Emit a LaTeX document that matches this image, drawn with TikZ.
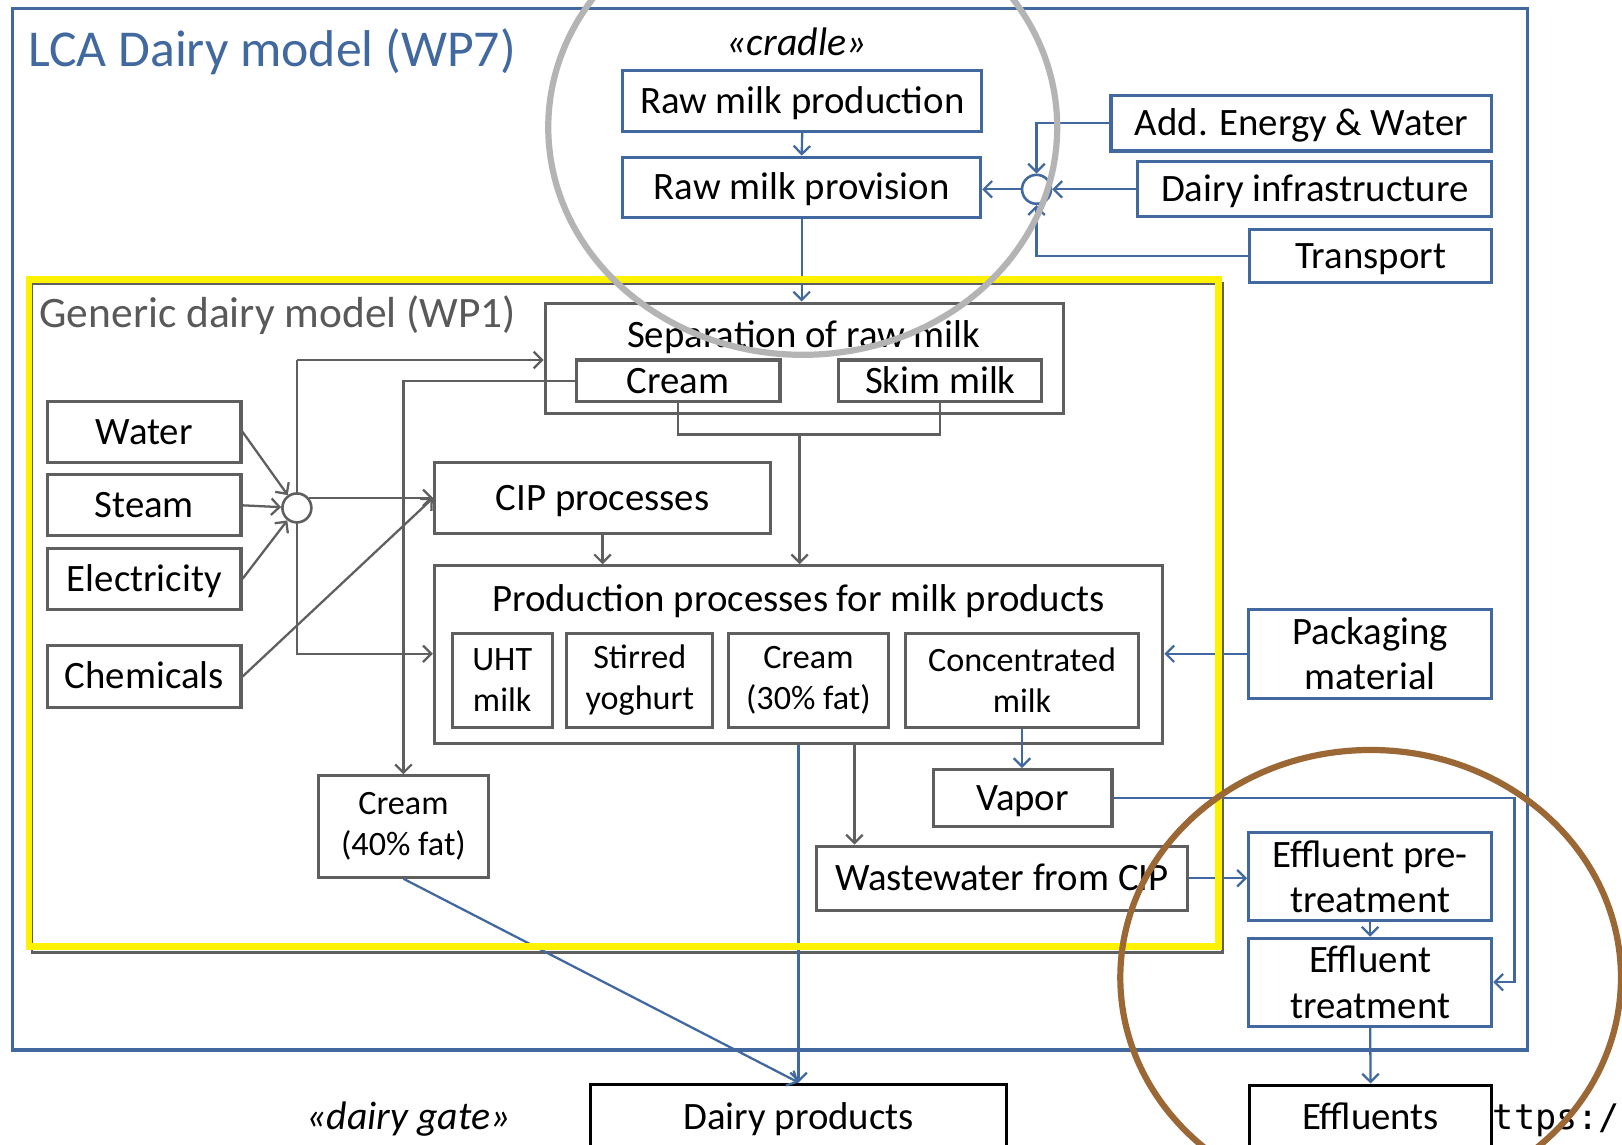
\documentclass[tikz,border=0pt]{standalone}
\usepackage{fontspec}
\setmainfont{Carlito}
\newfontfamily\urlfont{DejaVu Sans Mono}
\usetikzlibrary{arrows.meta}
\definecolor{cblue}{RGB}{65,105,160}
\definecolor{cgray}{RGB}{95,95,95}
\definecolor{tgray}{RGB}{89,89,89}
\definecolor{ringgray}{RGB}{180,180,180}
\definecolor{ringbrown}{RGB}{155,103,53}
\tikzset{
  box/.style={rectangle, line width=3pt, inner sep=0pt, align=center, text=black,
              font=\fontsize{37.5}{44}\selectfont},
  one/.style={text height=27pt, text depth=3pt},
  bbox/.style={box, draw=cblue},
  gbox/.style={box, draw=cgray},
  kbox/.style={box, draw=black},
  smalltxt/.style={font=\fontsize{33}{40}\selectfont},
  bl/.style={draw=cblue, line width=2.2pt},
  gl/.style={draw=cgray, line width=2.2pt},
  jct/.style={circle, inner sep=0pt, minimum size=28pt, line width=2.5pt, fill=white},
}
\begin{document}
\begin{tikzpicture}[x=1pt,y=-1pt,>={Straight Barb[length=8pt,width=16pt]}]
\useasboundingbox (0,0) rectangle (1568,1106);
\fill[white] (0,0) rectangle (1568,1106);

% outer LCA box
\draw[cblue, line width=3pt] (12,8) rectangle (1477,1015);
\node[anchor=west, text=cblue, font=\fontsize{50}{58}\selectfont, inner sep=0pt] (title) at (27,50) {LCA Dairy model (WP7)};

% generic box shadow
\draw[cgray, line width=2.5pt] (31,274) rectangle (1182,921);
\node[anchor=west, text=tgray, font=\fontsize{42}{50}\selectfont, inner sep=0pt] (gtitle) at (38,305) {Generic dairy model (WP1)};

% cradle
\node[font=\fontsize{38.5}{44}\selectfont\itshape, inner sep=0pt] (cradle) at (770,40) {«cradle»};
\node[bbox, one, minimum width=347pt, minimum height=59pt] (rmp) at (775.5,97.5) {Raw milk production};
\node[bbox, one, minimum width=346pt, minimum height=58pt] (rmv) at (775,181) {Raw milk provision};
\node[bbox, one, minimum width=368pt, minimum height=54pt] (aew) at (1258,119) {Add. Energy \& Water};
\node[bbox, one, minimum width=342pt, minimum height=53pt] (dinf) at (1271,183) {Dairy infrastructure};
\node[bbox, one, minimum width=234pt, minimum height=51pt] (trans) at (1325,247.5) {Transport};
\node[jct, draw=cblue] (jb) at (1002,183) {};

% separation
\node[gbox, minimum width=501pt, minimum height=107pt] (sep) at (777.5,346.5) {};
\node[inner sep=0pt, anchor=base, font=\fontsize{37.5}{44}\selectfont] (septxt) at (777,336) {Separation of raw milk};
\node[gbox, one, minimum width=197pt, minimum height=40pt] (cream) at (655.5,368) {Cream};
\node[gbox, one, minimum width=196pt, minimum height=40pt] (skim) at (909,368) {Skim milk};

% inputs
\node[gbox, one, minimum width=187pt, minimum height=59pt] (water) at (139.5,417.5) {Water};
\node[gbox, one, minimum width=187pt, minimum height=59pt] (steam) at (139.5,488.5) {Steam};
\node[gbox, one, minimum width=187pt, minimum height=59pt] (elec) at (139.5,559.5) {Electricity};
\node[gbox, one, minimum width=187pt, minimum height=60pt] (chem) at (139.5,654) {Chemicals};

% CIP & production
\node[gbox, one, minimum width=325pt, minimum height=69pt] (cip) at (582.5,481.5) {CIP processes};
\node[gbox, minimum width=704pt, minimum height=172pt] (prod) at (772,633) {};
\node[inner sep=0pt, anchor=base, font=\fontsize{37.5}{44}\selectfont] (prodtxt) at (772,591) {Production processes for milk products};
\node[gbox, smalltxt, minimum width=97pt, minimum height=91pt] (uht) at (485.5,657.5) {UHT\\milk};
\node[gbox, smalltxt, minimum width=141pt, minimum height=91pt] (yog) at (618.5,657.5) {Stirred\\yoghurt};
\node[gbox, smalltxt, minimum width=155pt, minimum height=91pt] (cr30) at (781.5,657.5) {Cream\\(30\% fat)};
\node[gbox, smalltxt, minimum width=226pt, minimum height=91pt] (conc) at (988,657.5) {Concentrated\\milk};

\node[bbox, minimum width=235pt, minimum height=86pt] (pack) at (1324.5,632) {Packaging\\material};
\node[gbox, one, minimum width=173pt, minimum height=55pt] (vapor) at (988.5,771.5) {Vapor};
\node[gbox, one, minimum width=359pt, minimum height=62pt] (ww) at (968.5,849) {Wastewater from CIP};
\node[gbox, smalltxt, minimum width=164pt, minimum height=98pt] (cr40) at (390,799) {Cream\\(40\% fat)};

\node[bbox, minimum width=235pt, minimum height=85pt] (effpre) at (1324.5,847.5) {Effluent pre-\\treatment};
\node[bbox, minimum width=235pt, minimum height=85pt] (efft) at (1324.5,949.5) {Effluent\\treatment};
\node[kbox, one, minimum width=234pt, minimum height=62pt] (effl) at (1325,1080) {Effluents};
\node[kbox, one, minimum width=402pt, minimum height=64pt] (dp) at (772,1080) {Dairy products};
\node[font=\fontsize{38.5}{44}\selectfont\itshape, inner sep=0pt] (gate) at (395,1082) {«dairy gate»};
\node[anchor=west, font=\fontsize{34}{40}\selectfont\urlfont, inner sep=0pt] (url) at (1443,1083) {ttps:/};

% blue connectors (top)
\draw[bl,->] (rmp.south) -- (rmv.north);
\draw[bl,->] (rmv.south) -- (rmv.south |- sep.north);
\draw[bl,->] (jb.west) -- (jb.west -| rmv.east);
\draw[bl,->] (dinf.west) -- (jb.east);
\draw[bl,->] (aew.west) -| (jb.north);
\draw[bl,->] (trans.west) -| (jb.south);

% separation outputs
\coordinate (mrg) at (773,420);
\draw[gl] (cream.south) |- (mrg) -| (skim.south);
\draw[gl,->] (mrg) -- (mrg |- prod.north);
\draw[gl,->] (cream.west) -| (cr40.north);

% gray junction
\coordinate (vt) at (287,348);
\coordinate (vb) at (287,632);
\draw[gl,->] (vt) -- (vt -| sep.west);
\draw[gl,->] (vt) -- (vb) -- (vb -| prod.west);
\node[jct, draw=cgray] (jg) at (287,491) {};
\draw[gl,->] (water.east) -- (jg);
\draw[gl,->] (steam.east) -- (jg);
\draw[gl,->] (elec.east) -- (jg);
\draw[gl,->] (jg.40) -- (jg.40 -| cip.west);
\draw[gl,->] (chem.east) -- (cip.west);
\draw[gl,->] (cip.south) -- (cip.south |- prod.north);

% production outputs
\draw[bl,->] (pack.west) -- (pack.west -| prod.east);
\draw[bl,->] (conc.south) -- (conc.south |- vapor.north);
\coordinate (pw) at (826,719);
\draw[gl,->] (pw) -- (pw |- ww.north);
\draw[bl,->] (prod.south) -- (dp.north);
\draw[bl,->] (cr40.south) -- (dp.north);
\draw[bl,->] (ww.east) -- (ww.east -| effpre.west);
\draw[bl,->] (effpre.south) -- (efft.north);
\draw[bl,->] (efft.south) -- (effl.north);
\coordinate (vr) at (1464,772);
\draw[bl,->] (vapor.east) -- (vapor.east -| vr) |- (efft.east);

% yellow highlight
\draw[yellow, line width=6.5pt] (28,270) rectangle (1178,915);

% rings
\draw[ringgray, line width=6pt] (776,123) ellipse [x radius=246pt, y radius=220pt];
\draw[ringbrown, line width=6pt] (1325,945) ellipse [x radius=242pt, y radius=220pt];
\end{tikzpicture}
\end{document}
